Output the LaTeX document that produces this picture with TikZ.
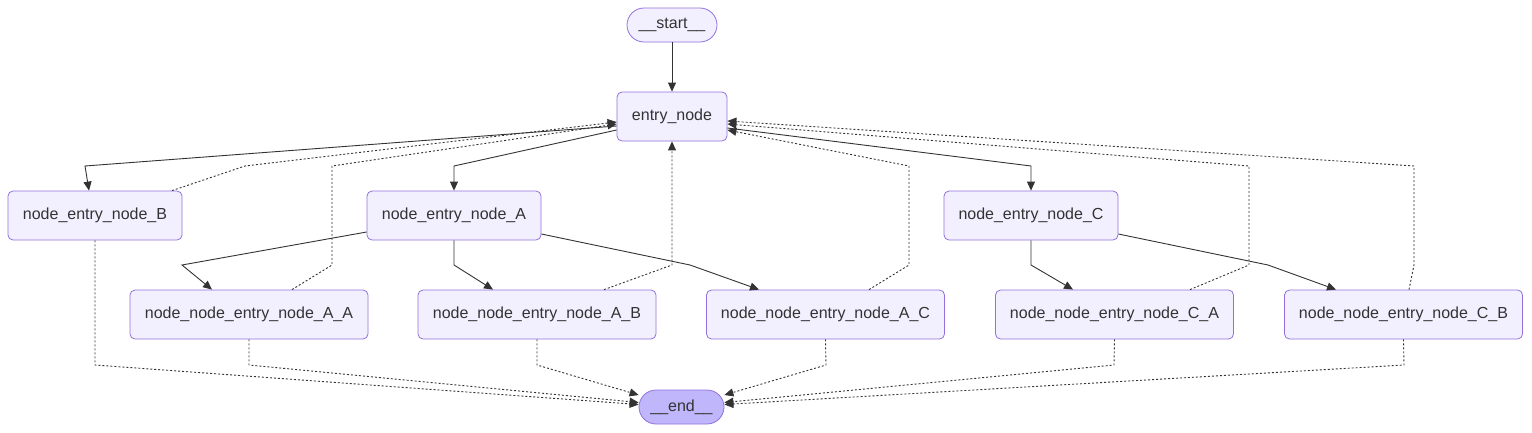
\documentclass[tikz,border=0pt]{standalone}
\usepackage{fontspec}
\setmainfont{Liberation Sans}
\usetikzlibrary{arrows.meta}
\definecolor{nodefill}{HTML}{F2F0FF}
\definecolor{nodeline}{HTML}{9370DB}
\definecolor{endfill}{HTML}{BFB6FC}
\definecolor{edgecol}{HTML}{333333}
\begin{document}
\begin{tikzpicture}[x=1pt,y=-1pt,
  box/.style={draw=nodeline, fill=nodefill, rounded corners=5pt, line width=0.8pt,
    minimum height=49pt, inner sep=0pt, text=edgecol, font=\fontsize{16}{19}\selectfont},
  term/.style={box, rounded corners=17pt, minimum height=34pt},
  flow/.style={draw=edgecol, line width=0.9pt, -{Triangle[length=9pt,width=8pt]}},
  back/.style={flow, dash pattern=on 2pt off 2pt}]
\useasboundingbox (0,0) rectangle (1532,432);
% nodes
\node[term, minimum width=90pt] (start) at (672,25) {\_\_start\_\_};
\node[box, minimum width=110pt] (entry) at (672,116.5) {entry\_node};
\node[box, minimum width=174pt] (B) at (95,215.5) {node\_entry\_node\_B};
\node[box, minimum width=174pt] (A) at (454,215.5) {node\_entry\_node\_A};
\node[box, minimum width=174pt] (C) at (1031,215.5) {node\_entry\_node\_C};
\node[box, minimum width=238pt] (AA) at (249,314.5) {node\_node\_entry\_node\_A\_A};
\node[box, minimum width=238pt] (AB) at (537,314.5) {node\_node\_entry\_node\_A\_B};
\node[box, minimum width=238pt] (AC) at (825.5,314.5) {node\_node\_entry\_node\_A\_C};
\node[box, minimum width=238pt] (CA) at (1114.5,314.5) {node\_node\_entry\_node\_C\_A};
\node[box, minimum width=238pt] (CB) at (1403.5,314.5) {node\_node\_entry\_node\_C\_B};
\node[term, minimum width=85pt, fill=endfill] (end) at (681.5,407) {\_\_end\_\_};
% solid edges
\draw[flow] (start.south) -- (entry.north);
\draw[flow] ([yshift=-9.5pt]entry.west) -- (85,166) -- ([xshift=-6pt]B.north);
\draw[flow] ([yshift=-13.5pt]entry.west) -- (454,166) -- (A.north);
\draw[flow] ([yshift=-11.5pt]entry.east) -- (1031,166) -- (C.north);
\draw[flow] ([yshift=-16.5pt]A.west) -- (182,265) -- ([xshift=-37pt]AA.north);
\draw[flow] (A.south) -- (454,265) -- ([xshift=-44pt]AB.north);
\draw[flow] ([yshift=-18.5pt]A.east) -- (690,265) -- ([xshift=-66.5pt]AC.north);
\draw[flow] (C.south) -- (1031,265) -- ([xshift=-41.5pt]CA.north);
\draw[flow] ([yshift=-18.5pt]C.east) -- (1268,265) -- ([xshift=-67.5pt]CB.north);
% back edges
\draw[back] ([xshift=77pt]B.north) -- (245,166) -- ([yshift=-5.5pt]entry.west);
\draw[back] ([xshift=43pt]AA.north) -- (332,265) -- (332,166) -- ([yshift=-7.5pt]entry.west);
\draw[back] ([xshift=67pt]AB.north) -- (672,265) -- (entry.south);
\draw[back] ([xshift=43.5pt]AC.north) -- (909,265) -- (909,166) -- ([yshift=-13.5pt]entry.east);
\draw[back] ([xshift=75.5pt]CA.north) -- (1249,265) -- (1249,166) -- ([yshift=-7.5pt]entry.east);
\draw[back] ([xshift=5.5pt]CB.north) -- (1414,265) -- (1414,166) -- ([yshift=-4.5pt]entry.east);
% to end
\draw[back] (B.south) -- (95,365) -- ([yshift=2.5pt]end.west);
\draw[back] (AA.south) -- (249,365) -- ([yshift=4.5pt]end.west);
\draw[back] (AB.south) -- (537,365) -- ([yshift=12pt]end.west);
\draw[back] (AC.south) -- (826,365) -- ([yshift=12pt]end.east);
\draw[back] (CA.south) -- (1114,365) -- ([yshift=4.5pt]end.east);
\draw[back] (CB.south) -- (1404,365) -- ([yshift=2.5pt]end.east);
\end{tikzpicture}
\end{document}
